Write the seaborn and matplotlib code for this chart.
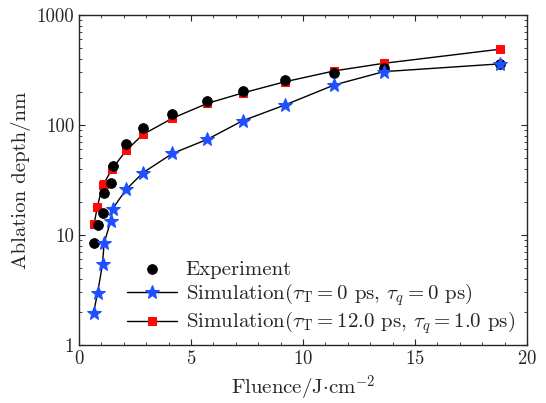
import numpy as np
import pandas as pd
import matplotlib
matplotlib.use("Agg")
import matplotlib.pyplot as plt
import seaborn as sns
from matplotlib.ticker import MultipleLocator, LogLocator, NullFormatter, FixedFormatter, FixedLocator

# data
fluence_low = [0.65, 0.83, 1.05, 1.12, 1.42, 1.5, 2.11]
fluence_high = [2.86, 4.17, 5.73, 7.3, 9.2, 11.4, 13.6, 18.8]
fluence = fluence_low + fluence_high

exp_depth = [8.5, 12.2, 15.8, 24.3, 29.9, 42.7, 66.8, 94.5, 125, 166, 205, 257, 295, 327, 359]
sim0_depth = [1.97, 2.97, 5.45, 8.4, 13.5, 17.3, 26, 36.8, 55, 74, 109, 152, 231, 305, 359]
sim12_fluence = [0.67, 0.82, 1.05, 1.1, 1.46, 2.12, 2.86, 4.17, 5.73, 7.3, 9.2, 11.4, 13.6, 18.8]
sim12_depth = [12.5, 18, 28.3, 29, 39.5, 59, 82, 115, 157, 195, 247, 310, 363, 488]

sns.set_style("ticks")
plt.rcParams["font.family"] = ["cmr10", "DejaVu Serif"]
plt.rcParams["mathtext.fontset"] = "cm"
plt.rcParams["axes.formatter.use_mathtext"] = True
plt.rcParams["font.size"] = 14

df_exp = pd.DataFrame({"x": fluence, "y": exp_depth})
df_s0 = pd.DataFrame({"x": fluence, "y": sim0_depth})
df_s12 = pd.DataFrame({"x": sim12_fluence, "y": sim12_depth})

fig = plt.figure(figsize=(5.46, 4.03), dpi=100)
ax = fig.add_axes([0.1447, 0.144, 0.8205, 0.819])

blue = "#1f4fff"
red = "#ff0a0a"

sns.lineplot(data=df_s12, x="x", y="y", ax=ax, color="k", lw=1.0, sort=False,
             estimator=None, marker="s", markersize=6, mfc=red, mec=red,
             label=r"Simulation($\tau_{\mathrm{T}} = 12.0$ ps, $\tau_q = 1.0$ ps)", zorder=2)
sns.scatterplot(data=df_exp, x="x", y="y", ax=ax, color="k", s=50, edgecolor="k",
                label="Experiment", zorder=3)
sns.lineplot(data=df_s0, x="x", y="y", ax=ax, color="k", lw=1.0, sort=False,
             estimator=None, marker="*", markersize=10, mfc=blue, mec=blue,
             label=r"Simulation($\tau_{\mathrm{T}} = 0$ ps, $\tau_q = 0$ ps)", zorder=4)

ax.set_yscale("log")
ax.set_xlim(0, 20)
ax.set_ylim(1, 1000)
ax.xaxis.set_major_locator(MultipleLocator(5))
ax.xaxis.set_minor_locator(MultipleLocator(1))
ax.yaxis.set_major_locator(FixedLocator([1, 10, 100, 1000]))
ax.yaxis.set_major_formatter(FixedFormatter(["1", "10", "100", "1000"]))
ax.yaxis.set_minor_locator(LogLocator(base=10, subs=np.arange(2, 10)))
ax.yaxis.set_minor_formatter(NullFormatter())
ax.tick_params(which="both", direction="in", top=True, right=True, labelsize=13.5)
ax.tick_params(which="major", length=4)
ax.tick_params(which="minor", length=2.5)
for s in ax.spines.values():
    s.set_linewidth(1.0)

ax.set_xlabel(r"Fluence/J$\cdot$cm$^{-2}$", fontsize=15)
ax.set_ylabel("Ablation depth/nm", fontsize=15)

h, l = ax.get_legend_handles_labels()
order = [1, 2, 0]
ax.legend([h[i] for i in order], [l[i] for i in order], loc="lower left",
          bbox_to_anchor=(0.08, -0.012), frameon=False, fontsize=15,
          handlelength=2.4, handletextpad=0.4, labelspacing=0.1,
          borderaxespad=0.2)

fig.savefig("out.png", dpi=100)
